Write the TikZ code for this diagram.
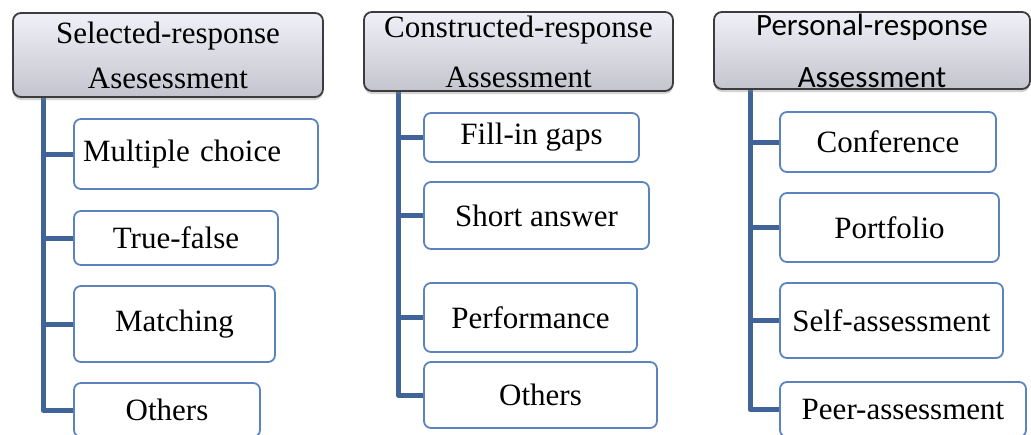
\documentclass[tikz,border=0pt]{standalone}
\usepackage{fontspec}
\setmainfont{Liberation Serif}
\newfontfamily\calibrisans{Carlito}
\usetikzlibrary{shadows,backgrounds}
\definecolor{linkblue}{RGB}{64,100,152}
\definecolor{itemedge}{RGB}{91,132,190}
\definecolor{headtop}{RGB}{240,240,248}
\definecolor{headbot}{RGB}{196,196,206}
\definecolor{headedge}{RGB}{60,60,60}
\begin{document}
\begin{tikzpicture}[x=1pt,y=-1pt,
  header/.style={draw=headedge, line width=1.8pt, rounded corners=8pt,
    top color=headtop, bottom color=headbot,
    drop shadow={opacity=0.35, shadow xshift=0pt, shadow yshift=-3pt},
    align=center, inner sep=0pt},
  item/.style={draw=itemedge, line width=1.8pt, rounded corners=7pt,
    fill=white, inner sep=2pt,
    font=\fontsize{31}{37}\selectfont},
  conn/.style={draw=linkblue, line width=5pt, line join=round}]
\useasboundingbox (0,0) rectangle (1031,434);
\clip (0,0) rectangle (1031,434);

% column headers
\node[header, minimum width=310pt, minimum height=84pt,
  font=\fontsize{31}{45}\selectfont] (h1) at (168,55)
  {Selected-response\\Asesessment};
\node[header, minimum width=309pt, minimum height=79pt,
  font=\fontsize{31}{50}\selectfont] (h2) at (518.5,51.5)
  {Constructed-response\\Assessment};
\node[header, minimum width=316pt, minimum height=77pt,
  font=\calibrisans\fontsize{31}{52}\selectfont] (h3) at (872,50.5)
  {Personal-response\\Assessment};

% selected-response items
\node[item, text width=226pt, inner xsep=9pt, align=left,
  minimum height=70pt] (mc) at (196,154) {Multiple choice};
\node[item, minimum width=204pt, minimum height=54pt] (tf) at (176,238) {True-false};
\node[item, minimum width=201pt, minimum height=76pt] (ma) at (174.5,324) {Matching};
\node[item, minimum width=186pt, minimum height=54pt] (o1) at (167,410) {Others};

% constructed-response items
\node[item, minimum width=215pt, minimum height=49pt] (fg) at (531.5,137.5) {Fill-in gaps};
\node[item, minimum width=225pt, minimum height=67pt] (sa) at (536.5,215.5) {Short answer};
\node[item, minimum width=213pt, minimum height=69pt] (pf) at (530.5,317.5) {Performance};
\node[item, minimum width=233pt, minimum height=66pt] (o2) at (540.5,395) {Others};

% personal-response items
\node[item, minimum width=216pt, minimum height=60pt] (cf) at (888,142) {Conference};
\node[item, minimum width=219pt, minimum height=69pt] (pt) at (889.5,227.5) {Portfolio};
\node[item, minimum width=223pt, minimum height=75pt] (se) at (891.5,320.5) {Self-assessment};
\node[item, minimum width=246pt, minimum height=55pt] (pe) at (903,409.5) {Peer-assessment};

% tree connectors
\coordinate (s1) at (43,97);
\coordinate (s2) at (398,91);
\coordinate (s3) at (750,89);
\begin{scope}[on background layer]
  \foreach \c in {mc,tf,ma,o1} \draw[conn] (s1) |- (\c.west);
  \foreach \c in {fg,sa,pf,o2} \draw[conn] (s2) |- (\c.west);
  \foreach \c in {cf,pt,se,pe} \draw[conn] (s3) |- (\c.west);
\end{scope}
\end{tikzpicture}
\end{document}
